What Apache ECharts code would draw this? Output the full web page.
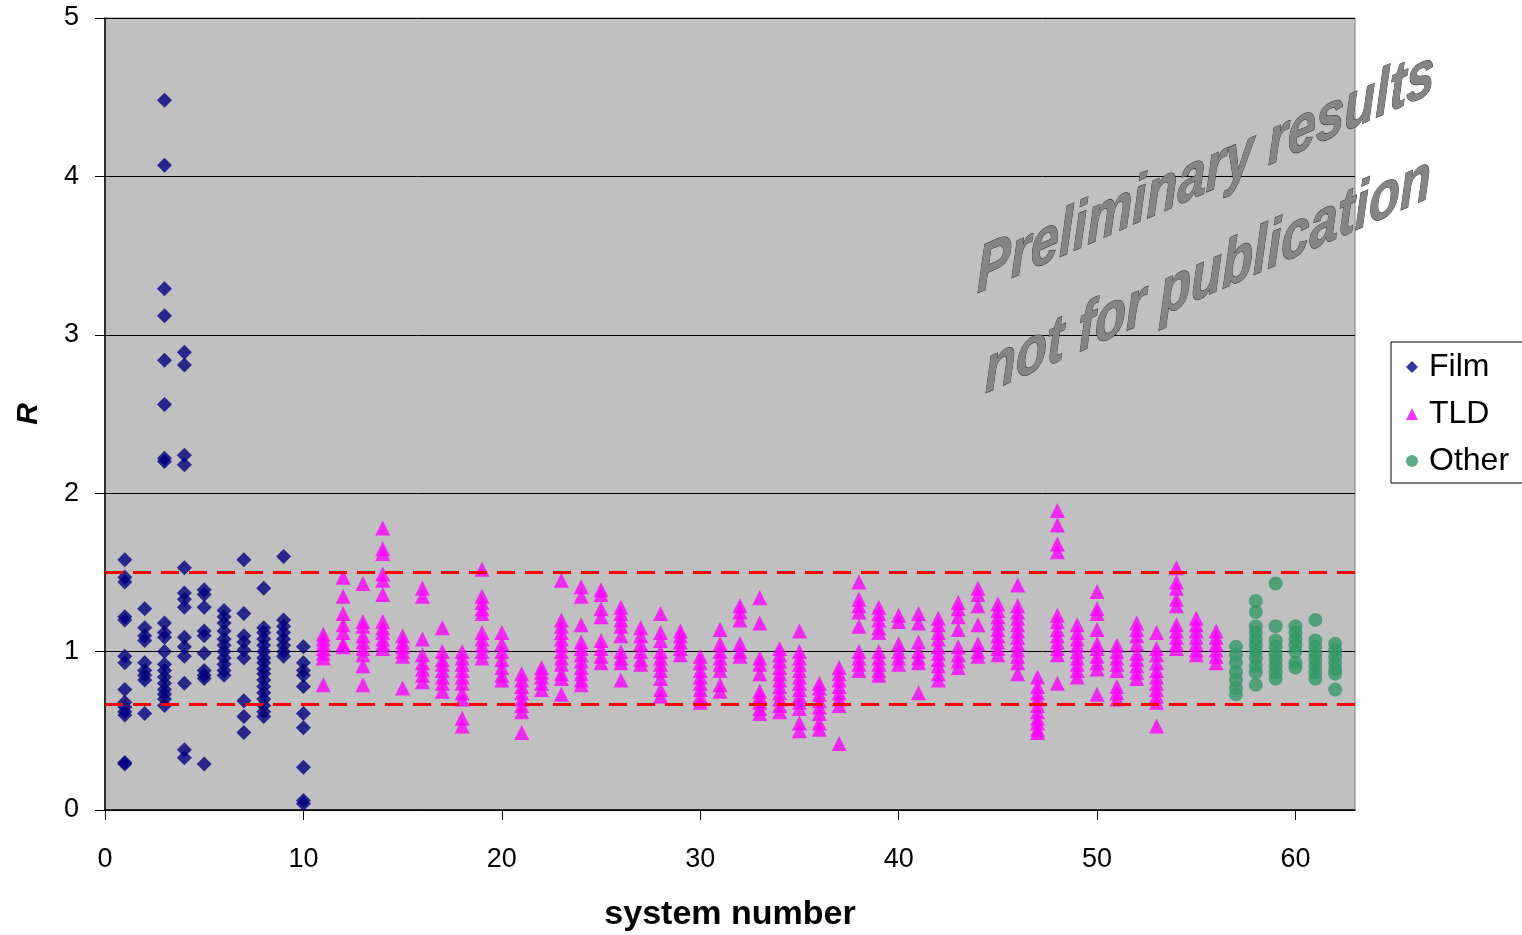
<!DOCTYPE html>
<html>
<head>
<meta charset="UTF-8">
<title>R by system number</title>
<script type="text/javascript" src="https://cdn.jsdelivr.net/npm/echarts@6/dist/echarts.min.js"></script>
<style>
  body{margin:0;background:#fff}
</style>
</head>
<body>
<div id="main" style="width:1522px;height:935px"></div>
<script type="text/javascript">
// R values per system
var filmSystems = [1,2,3,4,5,6,7,8,9,10];
var filmValues = [
  [1.58,1.47,1.44,1.22,1.20,0.97,0.93,0.76,0.68,0.65,0.62,0.60,0.30,0.29],
  [1.27,1.15,1.10,1.07,0.93,0.88,0.85,0.82,0.61],
  [4.48,4.07,3.29,3.12,2.84,2.56,2.22,2.20,1.18,1.12,1.09,1.00,0.92,0.88,0.84,0.80,0.76,0.73,0.70,0.66],
  [2.89,2.81,2.24,2.18,1.53,1.37,1.33,1.28,1.09,1.03,0.97,0.80,0.38,0.33],
  [1.39,1.36,1.28,1.13,1.10,0.99,0.88,0.85,0.83,0.29],
  [1.26,1.22,1.18,1.13,1.08,1.04,1.00,0.96,0.92,0.88,0.85],
  [1.58,1.24,1.10,1.06,1.01,0.96,0.69,0.59,0.49],
  [1.40,1.15,1.12,1.08,1.04,1.00,0.96,0.93,0.89,0.86,0.82,0.78,0.74,0.70,0.66,0.62,0.59],
  [1.60,1.20,1.16,1.12,1.08,1.04,1.00,0.97],
  [1.03,0.93,0.88,0.85,0.78,0.61,0.52,0.27,0.06,0.04]
];

var tldSystems = [11,12,13,14,15,16,17,18,19,20,21,22,23,24,25,26,27,28,29,30,31,32,33,34,35,36,37,38,39,40,41,42,43,44,45,46,47,48,49,50,51,52,53,54,55,56];
var tldValues = [
  [1.11,1.08,1.05,1.02,0.99,0.96,0.79],
  [1.47,1.35,1.24,1.17,1.12,1.05,1.03],
  [1.43,1.19,1.16,1.10,1.06,1.02,0.98,0.91,0.79],
  [1.78,1.65,1.62,1.49,1.45,1.36,1.19,1.15,1.12,1.08,1.05,1.02],
  [1.10,1.06,1.03,1.00,0.97,0.77],
  [1.40,1.35,1.08,0.98,0.93,0.89,0.85,0.81],
  [1.15,1.00,0.95,0.92,0.88,0.84,0.80,0.75],
  [1.00,0.96,0.92,0.88,0.84,0.80,0.74,0.70,0.58,0.53],
  [1.52,1.35,1.31,1.27,1.24,1.12,1.08,1.04,1.00,0.96],
  [1.12,1.05,1.00,0.95,0.90,0.85,0.82],
  [0.86,0.82,0.78,0.74,0.70,0.66,0.62,0.49],
  [0.90,0.87,0.84,0.80,0.76],
  [1.45,1.20,1.16,1.12,1.08,1.04,1.00,0.96,0.92,0.86,0.83,0.73],
  [1.41,1.35,1.17,1.06,1.02,0.98,0.94,0.90,0.86,0.82,0.79],
  [1.39,1.36,1.27,1.22,1.07,1.02,0.97,0.93],
  [1.28,1.24,1.20,1.16,1.10,1.00,0.96,0.93,0.82],
  [1.15,1.10,1.05,1.00,0.95,0.92],
  [1.24,1.12,1.07,1.00,0.96,0.92,0.88,0.83,0.76,0.72],
  [1.13,1.10,1.06,1.02,0.98],
  [0.97,0.93,0.88,0.84,0.80,0.76,0.72,0.68],
  [1.14,1.05,1.00,0.96,0.92,0.88,0.79,0.75],
  [1.29,1.25,1.20,1.05,1.00,0.97],
  [1.34,1.18,0.96,0.92,0.86,0.75,0.72,0.68,0.64,0.61],
  [1.02,0.98,0.94,0.90,0.86,0.82,0.78,0.74,0.70,0.66,0.62],
  [1.13,1.00,0.96,0.92,0.88,0.84,0.80,0.76,0.72,0.68,0.64,0.55,0.50],
  [0.80,0.77,0.73,0.69,0.65,0.61,0.55,0.51],
  [0.90,0.86,0.82,0.78,0.74,0.70,0.66,0.42],
  [1.44,1.33,1.29,1.25,1.16,1.00,0.96,0.92,0.88],
  [1.28,1.24,1.20,1.15,1.12,1.00,0.96,0.92,0.88,0.85],
  [1.23,1.19,1.05,1.00,0.96,0.92],
  [1.24,1.18,1.06,1.00,0.96,0.93,0.74],
  [1.21,1.17,1.12,1.08,1.03,0.99,0.95,0.91,0.86,0.82],
  [1.31,1.27,1.22,1.14,1.03,0.98,0.94,0.90],
  [1.40,1.36,1.29,1.17,1.05,1.00,0.97],
  [1.30,1.26,1.22,1.18,1.14,1.10,1.06,1.02,0.98],
  [1.42,1.29,1.25,1.21,1.17,1.13,1.09,1.05,1.01,0.97,0.93,0.86],
  [0.84,0.78,0.74,0.70,0.66,0.62,0.58,0.55,0.51,0.49],
  [1.89,1.80,1.68,1.63,1.23,1.19,1.14,1.10,1.06,1.02,0.98,0.80],
  [1.17,1.12,1.08,1.04,1.00,0.96,0.92,0.88,0.84],
  [1.38,1.27,1.24,1.14,1.05,1.02,0.97,0.93,0.89,0.73],
  [1.04,1.00,0.96,0.92,0.88,0.78,0.74,0.70],
  [1.18,1.14,1.10,1.05,0.99,0.95,0.91,0.87,0.83],
  [1.12,1.02,0.98,0.93,0.88,0.84,0.80,0.76,0.72,0.68,0.53],
  [1.53,1.44,1.40,1.33,1.29,1.17,1.13,1.09,1.05,1.02],
  [1.21,1.17,1.13,1.09,1.05,1.01,0.98],
  [1.13,1.09,1.05,1.01,0.97,0.93]
];

var otherSystems = [57,58,59,60,61,62];
var otherValues = [
  [1.03,0.98,0.93,0.87,0.82,0.77,0.73],
  [1.32,1.25,1.16,1.12,1.08,1.04,1.00,0.96,0.91,0.87,0.79],
  [1.43,1.16,1.07,1.03,0.99,0.95,0.91,0.87,0.83],
  [1.16,1.12,1.08,1.04,1.00,0.93,0.90],
  [1.20,1.07,1.03,0.99,0.95,0.91,0.87,0.83],
  [1.05,1.01,0.97,0.93,0.89,0.86,0.76]
];

var limitLines = [1.5, 0.667];
var xTicks = [0,10,20,30,40,50,60];
var watermarkLines = ['Preliminary results', 'not for publication'];

function toPoints(systems, values) {
  var pts = [];
  for (var i = 0; i < systems.length; i++) {
    for (var j = 0; j < values[i].length; j++) {
      pts.push([systems[i], values[i][j]]);
    }
  }
  return pts;
}

var myChart = echarts.init(document.getElementById('main'));
var option = {
  animation: false,
  textStyle: {fontFamily: '"Liberation Sans", Arial, sans-serif'},
  grid: {
    left: 105, top: 18, width: 1250, height: 792, outerBoundsMode: 'none',
    show: true, backgroundColor: '#C0C0C0', borderColor: '#808080', borderWidth: 1
  },
  legend: {
    orient: 'vertical', left: 1391, top: 342,
    backgroundColor: '#fff', borderColor: '#000', borderWidth: 1, borderRadius: 0,
    padding: [9, 40, 6, 15], itemGap: 15, itemWidth: 12, itemHeight: 12,
    textStyle: {fontSize: 32, color: '#000', padding: [0, 0, 0, 6]},
    data: [
      {name: 'Film', icon: 'diamond'},
      {name: 'TLD', icon: 'triangle'},
      {name: 'Other', icon: 'circle'}
    ]
  },
  xAxis: {
    type: 'value', min: 0, max: 63, interval: 10,
    name: 'system number', nameLocation: 'middle', nameGap: 88,
    nameTextStyle: {fontSize: 34, fontWeight: 'bold', color: '#000'},
    axisLine: {lineStyle: {color: '#000', width: 1.5}},
    axisTick: {show: true, length: 10, lineStyle: {color: '#000'}, customValues: xTicks},
    axisLabel: {fontSize: 27, color: '#000', margin: 36, customValues: xTicks,
      formatter: function (v) { return v % 10 === 0 ? v : ''; }},
    splitLine: {show: false}
  },
  yAxis: {
    type: 'value', min: 0, max: 5, interval: 1,
    name: 'R', nameLocation: 'middle', nameGap: 61, nameRotate: 90,
    nameTextStyle: {fontSize: 30, fontWeight: 'bold', fontStyle: 'italic', color: '#000'},
    axisLine: {show: true, lineStyle: {color: '#000', width: 1.5}},
    axisTick: {show: true, length: 10, lineStyle: {color: '#000'}},
    axisLabel: {fontSize: 27, color: '#000', margin: 26},
    splitLine: {show: true, lineStyle: {color: '#000', width: 1}}
  },
  series: [
    {
      name: 'Film', type: 'scatter', symbol: 'diamond', symbolSize: 15, z: 3,
      itemStyle: {color: '#000080'},
      data: toPoints(filmSystems, filmValues)
    },
    {
      name: 'TLD', type: 'scatter', symbol: 'triangle', symbolSize: 15, z: 3,
      itemStyle: {color: '#FF00FF'},
      data: toPoints(tldSystems, tldValues),
      markLine: {
        silent: true, symbol: 'none', label: {show: false},
        lineStyle: {color: '#FF0000', width: 3, type: [18, 10]},
        data: limitLines.map(function (v) { return {yAxis: v}; })
      }
    },
    {
      name: 'Other', type: 'scatter', symbol: 'circle', symbolSize: 14, z: 3,
      itemStyle: {color: '#339966'},
      data: toPoints(otherSystems, otherValues)
    }
  ]
};
myChart.setOption(option);

// sheared watermark text, added straight to the zrender layer
var starts = [[977, 308], [985, 408]];
var zr = myChart.getZr();
for (var k = 0; k < watermarkLines.length; k++) {
  var t = new echarts.graphic.Text({
    x: starts[k][0], y: starts[k][1],
    scaleX: 0.77, skewY: Math.atan(0.44),
    z: 1, silent: true,
    style: {
      text: watermarkLines[k],
      font: 'italic bold 66px "Liberation Sans", Arial, sans-serif',
      fill: '#858585', stroke: '#2a2a2a', lineWidth: 1,
      align: 'left', verticalAlign: 'bottom'
    }
  });
  zr.add(t);
}
</script>
</body>
</html>
